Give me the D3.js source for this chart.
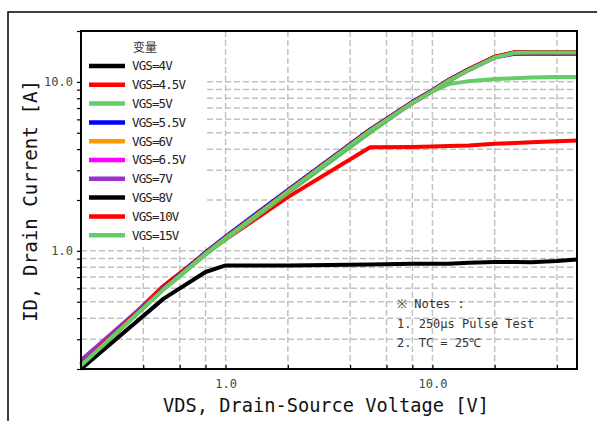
<!DOCTYPE html>
<html>
<head>
<meta charset="utf-8">
<script src="https://cdn.jsdelivr.net/npm/d3@7"></script>
<style>
  html, body { margin: 0; padding: 0; background: #fff; }
  svg { display: block; }
</style>
</head>
<body>
<div id="chart"></div>
<script>
/* Chart data */
const seriesNames = ['VGS=4V', 'VGS=4.5V', 'VGS=5V', 'VGS=5.5V', 'VGS=6V',
    'VGS=6.5V', 'VGS=7V', 'VGS=8V', 'VGS=10V', 'VGS=15V'];
const seriesColors = ['#000000', '#ff0000', '#66cc66', '#0000ff', '#ff9900',
    '#ff00ff', '#9933cc', '#000000', '#ff0000', '#66cc66'];

/* VDS sample points [V], shared by all series */
const vds = [0.2, 0.5, 0.8, 1, 2, 5, 8, 10, 12, 15, 20, 25, 30, 40, 50];

/* ID [A] per series */
const id4V = [0.2, 0.52, 0.75, 0.82, 0.82, 0.83, 0.84, 0.84, 0.84, 0.85, 0.86, 0.86, 0.855, 0.87, 0.89];
const id4p5V = [0.21, 0.62, 0.97, 1.17, 2.08, 4.1, 4.12, 4.15, 4.17, 4.2, 4.3, 4.35, 4.4, 4.45, 4.5];
const id5V = [0.21, 0.59, 0.95, 1.17, 2.2, 5.0, 7.5, 8.8, 9.7, 10.1, 10.4, 10.5, 10.6, 10.7, 10.7];
const id5p5V = [0.215, 0.6, 0.98, 1.215, 2.29, 5.24, 7.62, 8.93, 10.3, 11.9, 14.0, 14.65, 14.65, 14.65, 14.65];
const id6V = [0.215, 0.595, 0.965, 1.195, 2.25, 5.17, 7.52, 8.82, 10.17, 11.78, 13.97, 14.87, 14.9, 14.9, 14.9];
const id6p5V = [0.218, 0.597, 0.967, 1.197, 2.25, 5.17, 7.53, 8.83, 10.18, 11.79, 13.98, 14.88, 14.9, 14.9, 14.9];
const id7V = [0.225, 0.6, 0.968, 1.197, 2.25, 5.17, 7.52, 8.82, 10.17, 11.78, 13.97, 14.87, 14.9, 14.9, 14.9];
const id8V = [0.21, 0.595, 0.965, 1.195, 2.25, 5.17, 7.53, 8.84, 10.2, 11.82, 14.05, 14.95, 14.95, 14.95, 14.95];
const id10V = [0.212, 0.597, 0.967, 1.197, 2.26, 5.19, 7.55, 8.86, 10.22, 11.85, 14.08, 14.98, 14.98, 14.98, 14.98];
const id15V = [0.21, 0.59, 0.96, 1.19, 2.24, 5.15, 7.5, 8.8, 10.15, 11.75, 13.95, 14.85, 14.9, 14.9, 14.9];

const seriesValues = [id4V, id4p5V, id5V, id5p5V, id6V, id6p5V, id7V, id8V, id10V, id15V];

/* Axis ticks */
const xGridTicks = [0.2, 0.4, 0.6, 0.8, 1, 2, 4, 6, 8, 10, 20, 40];
const yGridTicks = [0.2, 0.3, 0.4, 0.5, 0.6, 0.7, 0.8, 0.9, 1, 2, 3, 4, 5, 6, 7, 8, 9, 10, 20];
const xTickLabels = [1, 10];
const yTickLabels = [1, 10];

const legendTitle = '变量';
const notes = ['※ Notes :', '1. 250μs Pulse Test', '2. TC = 25℃'];
const xTitle = 'VDS, Drain-Source Voltage [V]';
const yTitle = 'ID, Drain Current [A]';

/* Layout */
const width = 597;
const height = 421;
const plot = { left: 81, top: 31, right: 577, bottom: 369 };
const monoFont = '"DejaVu Sans Mono", "Liberation Mono", monospace';

let x = d3.scaleLog()
    .domain([0.2, 50])
    .range([plot.left, plot.right]);
let y = d3.scaleLog()
    .domain([0.2, 20])
    .range([plot.bottom, plot.top]);

let svg = d3.select('#chart')
    .append('svg')
    .attr('width', width)
    .attr('height', height)
    .attr('viewBox', `0 0 ${width} ${height}`);

/* Outer frame, runs off the right and bottom edges */
svg.append('rect')
    .attr('x', 8)
    .attr('y', 12)
    .attr('width', 640)
    .attr('height', 440)
    .attr('fill', '#fff')
    .attr('stroke', '#000')
    .attr('stroke-width', 1.5);

/* Grid */
let gridD3 = svg.append('g')
    .attr('class', 'grid')
    .attr('stroke', '#c2c2c2')
    .attr('stroke-width', 1.5)
    .attr('stroke-dasharray', '6,3');

gridD3.selectAll('line.gx')
    .data(xGridTicks)
    .join('line')
    .attr('class', 'gx')
    .attr('x1', d => x(d))
    .attr('x2', d => x(d))
    .attr('y1', plot.top)
    .attr('y2', plot.bottom);

gridD3.selectAll('line.gy')
    .data(yGridTicks)
    .join('line')
    .attr('class', 'gy')
    .attr('x1', plot.left)
    .attr('x2', plot.right)
    .attr('y1', d => y(d))
    .attr('y2', d => y(d));

/* Curves */
let line = d3.line()
    .x(d => x(d[0]))
    .y(d => y(d[1]));

svg.append('g')
    .attr('class', 'curves')
    .selectAll('path')
    .data(seriesValues)
    .join('path')
    .attr('d', vals => line(vds.map((v, i) => [v, vals[i]])))
    .attr('fill', 'none')
    .attr('stroke', (d, i) => seriesColors[i])
    .attr('stroke-width', 4)
    .attr('stroke-linejoin', 'round');

/* Axes */
let fmt = d => d.toFixed(1);

let xAxis = d3.axisBottom(x)
    .tickValues(xGridTicks)
    .tickSize(-4)
    .tickPadding(10)
    .tickFormat(d => xTickLabels.includes(d) ? fmt(d) : '');

let yAxis = d3.axisLeft(y)
    .tickValues(yGridTicks)
    .tickSize(4)
    .tickPadding(4)
    .tickFormat(d => yTickLabels.includes(d) ? fmt(d) : '');

let xAxisD3 = svg.append('g')
    .attr('transform', `translate(0, ${plot.bottom})`)
    .call(xAxis);

let yAxisD3 = svg.append('g')
    .attr('transform', `translate(${plot.left}, 0)`)
    .call(yAxis);

for (let axisD3 of [xAxisD3, yAxisD3]) {
  axisD3.select('.domain').remove();
  axisD3.selectAll('.tick line')
      .attr('stroke', '#000')
      .attr('stroke-width', 1.2);
  axisD3.selectAll('.tick text')
      .attr('font-family', monoFont)
      .attr('font-size', 12)
      .attr('fill', '#444');
}

/* Plot frame */
svg.append('rect')
    .attr('x', plot.left)
    .attr('y', plot.top)
    .attr('width', plot.right - plot.left)
    .attr('height', plot.bottom - plot.top)
    .attr('fill', 'none')
    .attr('stroke', '#000')
    .attr('stroke-width', 2);

/* Legend, white box over the grid */
let legendD3 = svg.append('g')
    .attr('class', 'legend');

legendD3.append('rect')
    .attr('x', plot.left + 1)
    .attr('y', plot.top + 1)
    .attr('width', 125)
    .attr('height', 213)
    .attr('fill', '#fff');

legendD3.append('text')
    .attr('x', 145)
    .attr('y', 48)
    .attr('dy', '0.35em')
    .attr('text-anchor', 'middle')
    .attr('font-family', '"Noto Sans CJK SC", sans-serif')
    .attr('font-size', 12)
    .attr('fill', '#333')
    .text(legendTitle);

let itemD3 = legendD3.selectAll('g.item')
    .data(seriesNames)
    .join('g')
    .attr('class', 'item')
    .attr('transform', (d, i) => `translate(0, ${66 + i * 18.8})`);

itemD3.append('line')
    .attr('x1', 89)
    .attr('x2', 125)
    .attr('stroke', (d, i) => seriesColors[i])
    .attr('stroke-width', 4.5);

itemD3.append('text')
    .attr('x', 132)
    .attr('dy', '0.35em')
    .attr('font-family', monoFont)
    .attr('font-size', 12.5)
    .attr('letter-spacing', -0.9)
    .attr('fill', '#222')
    .text(d => d);

/* Notes */
svg.append('g')
    .attr('class', 'notes')
    .selectAll('text')
    .data(notes)
    .join('text')
    .attr('x', 397)
    .attr('y', (d, i) => 304 + i * 19.5)
    .attr('dy', '0.35em')
    .attr('font-family', monoFont)
    .attr('font-size', 12)
    .attr('fill', '#333')
    .text(d => d);

/* Axis titles */
svg.append('text')
    .attr('x', 326)
    .attr('y', 412)
    .attr('text-anchor', 'middle')
    .attr('font-family', monoFont)
    .attr('font-size', 20)
    .attr('textLength', 326)
    .attr('lengthAdjust', 'spacingAndGlyphs')
    .attr('fill', '#111')
    .text(xTitle);

svg.append('text')
    .attr('transform', 'translate(37, 201) rotate(-90)')
    .attr('text-anchor', 'middle')
    .attr('font-family', monoFont)
    .attr('font-size', 20)
    .attr('textLength', 242)
    .attr('lengthAdjust', 'spacingAndGlyphs')
    .attr('fill', '#111')
    .text(yTitle);
</script>
</body>
</html>
